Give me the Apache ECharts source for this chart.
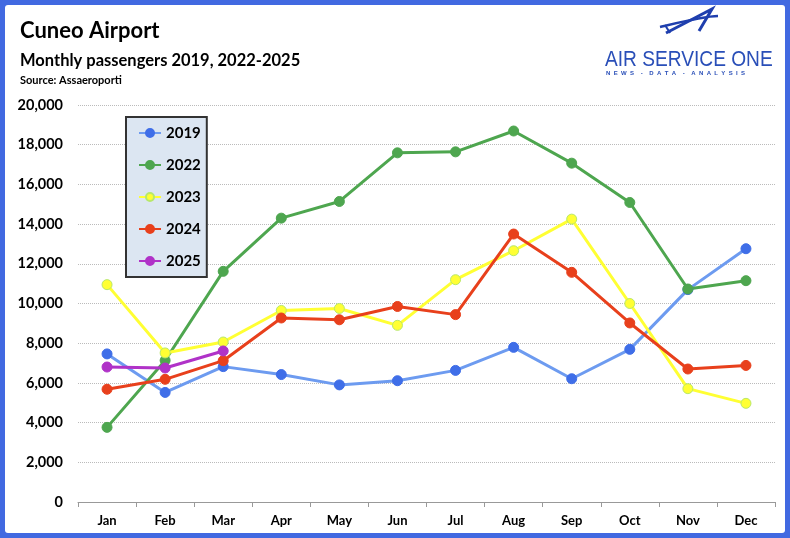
<!DOCTYPE html>
<html>
<head>
<meta charset="utf-8">
<script src="https://cdn.jsdelivr.net/npm/echarts@6/dist/echarts.min.js"></script>
<style>
  html, body { margin: 0; padding: 0; background: #4169e1; }
  #main { width: 790px; height: 538px; }
</style>
</head>
<body>
<div id="main"></div>
<script>
// data
var months = ['Jan', 'Feb', 'Mar', 'Apr', 'May', 'Jun', 'Jul', 'Aug', 'Sep', 'Oct', 'Nov', 'Dec']
var pax2019 = [7460, 5520, 6820, 6420, 5900, 6110, 6630, 7790, 6210, 7690, 10700, 12760]
var pax2022 = [3760, 7130, 11620, 14300, 15140, 17590, 17640, 18690, 17070, 15090, 10730, 11150]
var pax2023 = [10950, 7510, 8060, 9650, 9750, 8900, 11200, 12660, 14250, 10000, 5710, 4970]
var pax2024 = [5680, 6180, 7120, 9270, 9180, 9850, 9440, 13500, 11570, 9020, 6700, 6880]
var pax2025 = [6800, 6750, 7610]
var yTicks = [0, 2000, 4000, 6000, 8000, 10000, 12000, 14000, 16000, 18000, 20000]

var chart = echarts.init(document.getElementById('main'))

var font = 'Lato, "Noto Sans", sans-serif'
var logoBlue = '#2a4fb8'

function lineSeries(name, data, lineColor, dotColor, dotBorder) {
    return {
        name: name,
        type: 'line',
        data: data,
        symbol: 'circle',
        symbolSize: 10,
        lineStyle: { color: lineColor, width: 3 },
        itemStyle: { color: dotColor, borderColor: dotBorder || dotColor, borderWidth: 1 },
        z: 3
    }
}

var option = {
    backgroundColor: '#4169e1',
    animation: false,
    textStyle: { fontFamily: font },
    graphic: [
        // white card inside the blue frame
        { type: 'rect', shape: { x: 5, y: 5, width: 780, height: 528, r: 3 }, style: { fill: '#ffffff' }, z: -10 },
        // logo glyph
        { type: 'polyline', shape: { points: [[666, 33], [712, 9], [699, 31]] }, style: { stroke: '#1f3fae', lineWidth: 3, fill: null }, z: 5 },
        { type: 'bezierCurve', shape: { x1: 660, y1: 27, x2: 718, y2: 16, cpx1: 685, cpy1: 21, cpx2: 705, cpy2: 16 }, style: { stroke: '#1f3fae', lineWidth: 2.5, fill: null }, z: 5 },
        { type: 'line', shape: { x1: 665, y1: 25, x2: 670, y2: 33 }, style: { stroke: '#1f3fae', lineWidth: 2 }, z: 5 },
        { type: 'text', x: 605, y: 49, scaleX: 0.87, style: { text: 'AIR SERVICE ONE', fill: logoBlue, font: '22px "Liberation Sans", Arial, sans-serif' }, z: 5 },
        { type: 'text', x: 606, y: 70, style: { text: 'N  E  W  S    -    D  A  T  A    -    A  N  A  L  Y  S  I  S', fill: logoBlue, font: 'bold 6px "Liberation Sans", Arial, sans-serif' }, z: 5 }
    ],
    title: [
        { text: 'Cuneo Airport', left: 15, top: 15, textStyle: { fontFamily: font, fontSize: 22, fontWeight: 'bold', color: '#000' } },
        { text: 'Monthly passengers 2019, 2022-2025', left: 15, top: 47, textStyle: { fontFamily: font, fontSize: 16.5, fontWeight: 'bold', color: '#000' } },
        { text: 'Source: Assaeroporti', left: 15, top: 70, textStyle: { fontFamily: font, fontSize: 11, fontWeight: 'bold', color: '#000' } }
    ],
    legend: {
        orient: 'vertical',
        left: 126,
        top: 117,
        padding: [8, 6, 8, 12],
        itemWidth: 22,
        itemHeight: 10,
        itemGap: 16,
        backgroundColor: '#dce6f2',
        borderColor: '#333',
        borderWidth: 2,
        textStyle: { fontFamily: font, fontSize: 15, fontWeight: 'bold', color: '#000', lineHeight: 16 },
        data: ['2019', '2022', '2023', '2024', '2025']
    },
    grid: { left: 78, right: 15, top: 105, bottom: 36, containLabel: false },
    xAxis: {
        type: 'category',
        data: months,
        boundaryGap: true,
        axisLine: { lineStyle: { color: '#999', width: 1 } },
        axisTick: { show: true, length: 5, lineStyle: { color: '#999' } },
        axisLabel: { margin: 12, fontFamily: font, fontSize: 13, fontWeight: 'bold', color: '#000' }
    },
    yAxis: {
        type: 'value',
        min: yTicks[0],
        max: yTicks[yTicks.length - 1],
        interval: yTicks[1] - yTicks[0],
        axisLine: { show: false },
        axisTick: { show: false },
        axisLabel: {
            margin: 15,
            fontFamily: font,
            fontSize: 14.5,
            fontWeight: 'bold',
            color: '#000',
            formatter: function (v) { return v.toLocaleString('en-US') }
        },
        splitLine: { lineStyle: { color: '#bbb', type: 'dotted', width: 1 } }
    },
    series: [
        lineSeries('2019', pax2019, '#6d9bf0', '#3f6ee8'),
        lineSeries('2022', pax2022, '#4ea64f', '#4ea64f'),
        lineSeries('2023', pax2023, '#ffff33', '#ffff33', '#b8e86a'),
        lineSeries('2024', pax2024, '#e8401c', '#e8401c'),
        lineSeries('2025', pax2025, '#b032c8', '#b032c8')
    ]
}

chart.setOption(option)
</script>
</body>
</html>
